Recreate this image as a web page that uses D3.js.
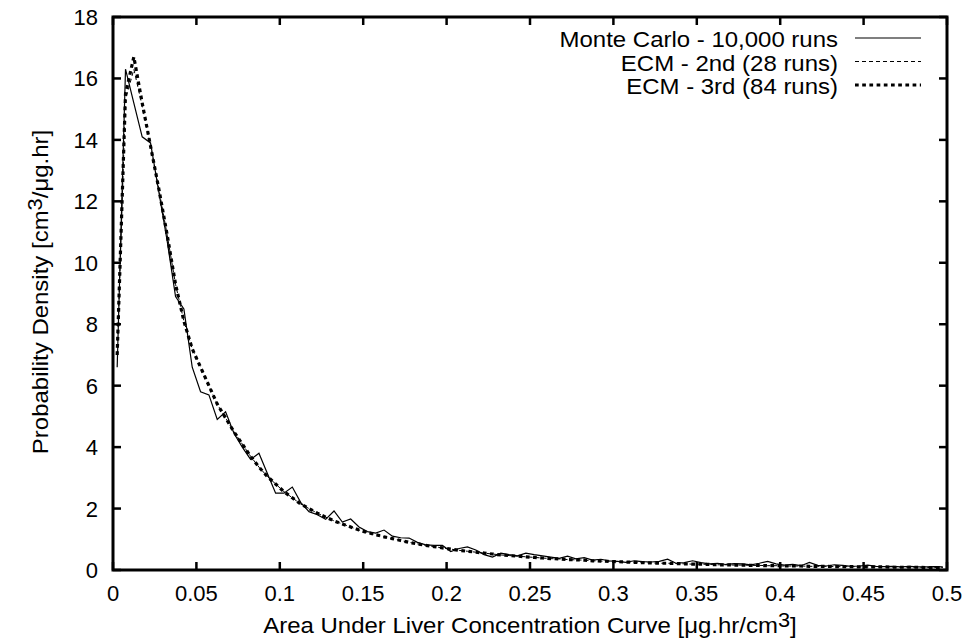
<!DOCTYPE html>
<html>
<head>
<meta charset="utf-8">
<script src="https://cdn.jsdelivr.net/npm/d3@7"></script>
<style>
body{margin:0;background:#fff;}
text{font-family:"Liberation Sans",Arial,sans-serif;fill:#000;}
</style>
</head>
<body>
<svg id="chart" width="969" height="644"></svg>
<script>
// bin centres (width 0.005)
var binX = d3.range(100).map(function(i){ return 0.0025 + 0.005*i; });

var monteCarlo = [6.6,16.3,15.2,14.1,13.9,12.3,10.7,8.9,8.5,6.6,
	5.8,5.7,4.9,5.15,4.45,4.0,3.6,3.8,3.15,2.5,
	2.5,2.7,2.2,1.9,1.8,1.65,1.92,1.56,1.66,1.4,
	1.25,1.2,1.3,1.1,1.05,1.04,0.9,0.82,0.8,0.8,
	0.6,0.7,0.75,0.65,0.5,0.42,0.55,0.5,0.46,0.55,
	0.5,0.46,0.42,0.38,0.45,0.36,0.4,0.32,0.35,0.3,
	0.28,0.25,0.3,0.27,0.26,0.28,0.35,0.22,0.24,0.3,
	0.24,0.2,0.22,0.18,0.21,0.2,0.17,0.22,0.28,0.2,
	0.16,0.18,0.14,0.25,0.15,0.13,0.17,0.15,0.12,0.13,
	0.16,0.12,0.11,0.12,0.1,0.12,0.1,0.1,0.11,0.1];

var ecm2 = [7.0,15.3,16.3,15.1,13.8,12.4,10.9,9.3,8.1,7.2,
	6.6,6.0,5.4,4.95,4.5,4.1,3.7,3.35,3.05,2.8,
	2.55,2.35,2.15,2.0,1.85,1.72,1.6,1.5,1.4,1.3,
	1.22,1.15,1.08,1.02,0.96,0.9,0.85,0.8,0.76,0.72,
	0.68,0.64,0.61,0.58,0.55,0.52,0.49,0.47,0.45,0.43,
	0.41,0.39,0.37,0.36,0.34,0.33,0.32,0.3,0.29,0.28,
	0.27,0.26,0.25,0.24,0.23,0.22,0.22,0.21,0.2,0.19,
	0.19,0.18,0.17,0.17,0.16,0.16,0.15,0.15,0.14,0.14,
	0.13,0.13,0.13,0.12,0.12,0.12,0.11,0.11,0.11,0.1,
	0.1,0.1,0.1,0.09,0.09,0.09,0.09,0.08,0.08,0.08];

var ecm3 = [7.0,15.5,16.7,15.2,13.8,12.4,10.9,9.3,8.1,7.2,
	6.6,6.0,5.4,4.95,4.5,4.1,3.7,3.35,3.05,2.8,
	2.55,2.35,2.15,2.0,1.85,1.72,1.6,1.5,1.4,1.3,
	1.22,1.15,1.08,1.02,0.96,0.9,0.85,0.8,0.76,0.72,
	0.68,0.64,0.61,0.58,0.55,0.52,0.49,0.47,0.45,0.43,
	0.41,0.39,0.37,0.36,0.34,0.33,0.32,0.3,0.29,0.28,
	0.27,0.26,0.25,0.24,0.23,0.22,0.22,0.21,0.2,0.19,
	0.19,0.18,0.17,0.17,0.16,0.16,0.15,0.15,0.14,0.14,
	0.13,0.13,0.13,0.12,0.12,0.12,0.11,0.11,0.11,0.1,
	0.1,0.1,0.1,0.09,0.09,0.09,0.09,0.08,0.08,0.08];

var xTicks = [0,0.05,0.1,0.15,0.2,0.25,0.3,0.35,0.4,0.45,0.5];
var yTicks = [0,2,4,6,8,10,12,14,16,18];
var seriesNames = ["Monte Carlo - 10,000 runs","ECM - 2nd (28 runs)","ECM - 3rd (84 runs)"];

var pLeft = 113, pRight = 947, pTop = 17, pBottom = 570;
var fs = "22px", stretch = 1.09;
var svg = d3.select("#chart");
var x = d3.scaleLinear().domain([0,0.5]).range([pLeft,pRight]);
var y = d3.scaleLinear().domain([0,18]).range([pBottom,pTop]);

//curves, clipped to plot
svg.append("clipPath").attr("id","clip").append("rect")
	.attr("x",pLeft).attr("y",pTop).attr("width",pRight-pLeft).attr("height",pBottom-pTop);

var line = d3.line().x(function(d){return x(d[0]);}).y(function(d){return y(d[1]);});
var styles = [
	{w:1.2, dash:null},
	{w:1, dash:"4,3"},
	{w:3.2, dash:"3.7,3.5"}
];
var allData = [monteCarlo, ecm2, ecm3];
var g = svg.append("g").attr("clip-path","url(#clip)");
for(s=0;s<3;s++){
	var pts = binX.map(function(v,i){ return [v, allData[s][i]]; });
	g.append("path").attr("d",line(pts))
		.attr("fill","none").attr("stroke","#000")
		.attr("stroke-width",styles[s].w)
		.attr("stroke-dasharray",styles[s].dash);
}

// ticks inside, mirrored on top/right
var tickLen = 8;
xTicks.forEach(function(t){
	svg.append("line").attr("x1",x(t)).attr("x2",x(t)).attr("y1",pBottom).attr("y2",pBottom-tickLen)
		.attr("stroke","#000").attr("stroke-width",2.5);
	svg.append("line").attr("x1",x(t)).attr("x2",x(t)).attr("y1",pTop).attr("y2",pTop+tickLen)
		.attr("stroke","#000").attr("stroke-width",2.5);
	svg.append("text").attr("x",x(t)).attr("y",pBottom+31).attr("text-anchor","middle")
		.style("font-size",fs).text(t);
});
yTicks.forEach(function(t){
	svg.append("line").attr("x1",pLeft).attr("x2",pLeft+tickLen).attr("y1",y(t)).attr("y2",y(t))
		.attr("stroke","#000").attr("stroke-width",2.5);
	svg.append("line").attr("x1",pRight).attr("x2",pRight-tickLen).attr("y1",y(t)).attr("y2",y(t))
		.attr("stroke","#000").attr("stroke-width",2.5);
	svg.append("text").attr("x",pLeft-15).attr("y",y(t)+8).attr("text-anchor","end")
		.style("font-size",fs).text(t);
});

// frame
svg.append("rect").attr("x",pLeft).attr("y",pTop).attr("width",pRight-pLeft).attr("height",pBottom-pTop)
	.attr("fill","none").attr("stroke","#000").attr("stroke-width",3);

// axis titles (slightly stretched, like the original)
var xl = svg.append("text").attr("transform","translate(530,633) scale("+stretch+",1)")
	.attr("text-anchor","middle").style("font-size",fs);
xl.append("tspan").text("Area Under Liver Concentration Curve [\u03bcg.hr/cm");
xl.append("tspan").attr("dy",-6).style("font-size","20px").text("3");
xl.append("tspan").attr("dy",6).text("]");

var yl = svg.append("text").attr("transform","translate(48,292) rotate(-90) scale("+stretch+",1)")
	.attr("text-anchor","middle").style("font-size",fs);
yl.append("tspan").text("Probability Density [cm");
yl.append("tspan").attr("dy",-6).style("font-size","20px").text("3");
yl.append("tspan").attr("dy",6).text("/\u03bcg.hr]");

// legend
seriesNames.forEach(function(n,i){
	var ly = 47 + i*23.5;
	svg.append("text").attr("transform","translate(838,"+ly+") scale("+stretch+",1)")
		.attr("text-anchor","end").style("font-size",fs).text(n);
	svg.append("line").attr("x1",855).attr("x2",921).attr("y1",ly-9).attr("y2",ly-9)
		.attr("stroke","#000").attr("stroke-width",styles[i].w)
		.attr("stroke-dasharray",styles[i].dash);
});
</script>
</body>
</html>
